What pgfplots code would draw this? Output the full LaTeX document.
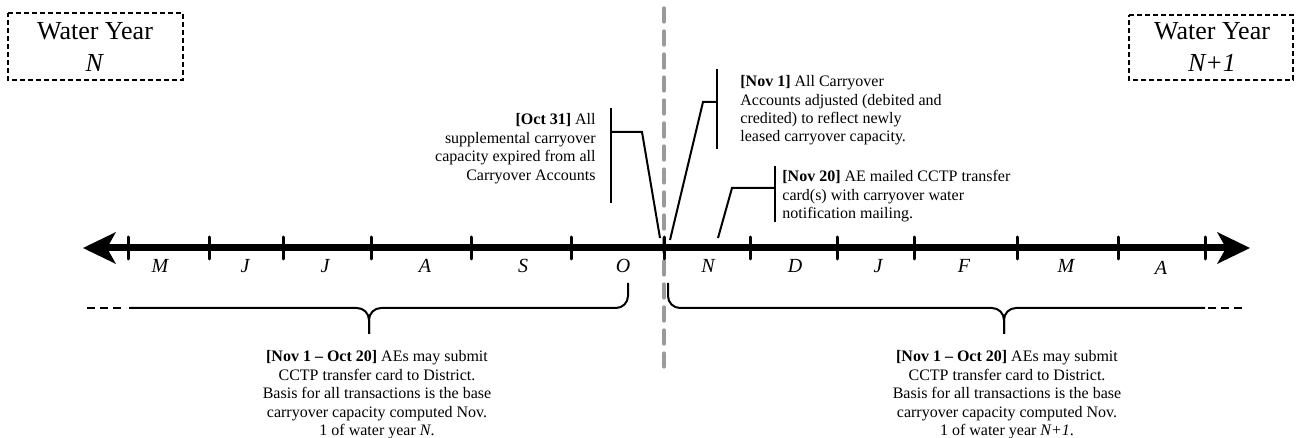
\documentclass[border=0pt]{standalone}
\usepackage{fontspec}
\setmainfont{Liberation Serif}[Ligatures=TeX]
\usepackage{pgfplots}
\pgfplotsset{compat=1.18}

\definecolor{guide}{HTML}{9A9A9A}

\begin{document}
\begin{tikzpicture}[
  note/.style={inner sep=0pt, font=\rmfamily\fontsize{8}{9.25}\selectfont},
  month/.style={inner sep=0pt, anchor=base, font=\rmfamily\fontsize{10}{12}\selectfont\itshape},
  wy/.style={inner sep=0pt, align=center, font=\rmfamily\fontsize{13}{16}\selectfont},
]
\begin{axis}[
  scale only axis, width=648pt, height=219pt,
  xmin=0, xmax=1296, ymin=0, ymax=438, y dir=reverse,
  hide axis, clip=false,
  cycle list={{black, mark=none}},
  every axis plot/.append style={line width=1pt},
]
% year boundary
\addplot[guide, line width=1.6pt, line cap=round, dash pattern=on 7pt off 4.5pt]
  coordinates {(664,8)(664,372)};

% main timeline
\addplot[black, line width=3.5pt] coordinates {(100,248)(1232,248)};
\addplot[fill=black, draw=none] coordinates {(83,248)(116,232)(107,248)(116,264)(83,248)};
\addplot[fill=black, draw=none] coordinates {(1250,248)(1217,232)(1226,248)(1217,264)(1250,248)};
\addplot[black, line width=1.5pt, line cap=round, unbounded coords=jump] coordinates {
  (128,237)(128,259) (nan,nan) (209,237)(209,259) (nan,nan)
  (283,237)(283,259) (nan,nan) (371,237)(371,259) (nan,nan)
  (471,237)(471,259) (nan,nan) (571,237)(571,259) (nan,nan)
  (664,237)(664,259) (nan,nan) (750,237)(750,259) (nan,nan)
  (837,237)(837,259) (nan,nan) (914,237)(914,259) (nan,nan)
  (1017,237)(1017,259) (nan,nan) (1118,237)(1118,259) (nan,nan)
  (1205,237)(1205,259)};

% months
\node[month] at (160,273) {M};
\node[month] at (245,273) {J};
\node[month] at (325,273) {J};
\node[month] at (425,273) {A};
\node[month] at (523,273) {S};
\node[month] at (623,273) {O};
\node[month] at (708,273) {N};
\node[month] at (795,273) {D};
\node[month] at (878,273) {J};
\node[month] at (964,273) {F};
\node[month] at (1066,273) {M};
\node[month] at (1161,275) {A};

% callouts
\addplot[black] coordinates {(611,108)(611,203)};
\addplot[black] coordinates {(611,132)(642,132)(660,238)};
\addplot[black] coordinates {(717,69)(717,149)};
\addplot[black] coordinates {(717,102)(703,102)(670,240)};
\addplot[black] coordinates {(775,166)(775,222)};
\addplot[black] coordinates {(775,188)(732,188)(718,238)};

\node[note, anchor=north east, align=right] at (596,113)
  {\textbf{[Oct 31]} All\\supplemental carryover\\capacity expired from all\\Carryover Accounts};
\node[note, anchor=north west, align=left] at (740,75)
  {\textbf{[Nov 1]} All Carryover\\Accounts adjusted (debited and\\credited) to reflect newly\\leased carryover capacity.};
\node[note, anchor=north west, align=left] at (782,170)
  {\textbf{[Nov 20]} AE mailed CCTP transfer\\card(s) with carryover water\\notification mailing.};

% braces
\addplot[black, rounded corners=6pt] coordinates {(129,308)(369,308)(369,334)};
\addplot[black, rounded corners=6pt] coordinates {(369,334)(369,308)(628,308)(628,283)};
\addplot[black, dash pattern=on 4pt off 2.5pt] coordinates {(87,308)(126,308)};
\addplot[black, rounded corners=6pt] coordinates {(668,283)(668,308)(1004,308)(1004,334)};
\addplot[black, rounded corners=6pt] coordinates {(1004,334)(1004,308)(1205,308)};
\addplot[black, dash pattern=on 4pt off 2.5pt] coordinates {(1208,308)(1245,308)};

\node[note, anchor=north, align=center] at (377,350)
  {\textbf{[Nov 1 -- Oct 20]} AEs may submit\\CCTP transfer card to District.\\Basis for all transactions is the base\\carryover capacity computed Nov.\\1 of water year \textit{N}.};
\node[note, anchor=north, align=center] at (1007,350)
  {\textbf{[Nov 1 -- Oct 20]} AEs may submit\\CCTP transfer card to District.\\Basis for all transactions is the base\\carryover capacity computed Nov.\\1 of water year \textit{N+1}.};

% water year boxes
\addplot[black, dash pattern=on 2.5pt off 1.5pt] coordinates {(8,13)(183,13)(183,80)(8,80)(8,13)};
\addplot[black, dash pattern=on 2.5pt off 1.5pt] coordinates {(1129,15)(1293,15)(1293,80)(1129,80)(1129,15)};
\node[wy] at (95,47) {Water Year\\\textit{N}};
\node[wy] at (1212,47) {Water Year\\\textit{N+1}};
\end{axis}
\pgfresetboundingbox
\useasboundingbox (current axis.south west) rectangle (current axis.north east);
\end{tikzpicture}
\end{document}
